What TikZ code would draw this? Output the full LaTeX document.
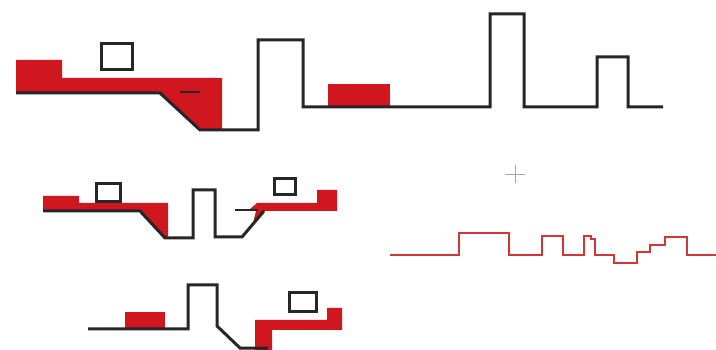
\documentclass[tikz,border=0pt]{standalone}
\definecolor{fillred}{RGB}{208,22,30}
\definecolor{wavered}{RGB}{210,55,55}
\begin{document}
\begin{tikzpicture}[x=1pt,y=-1pt,
  blk/.style={draw=black!85,line width=3pt,line join=miter},
  redfill/.style={fill=fillred,draw=none},
  mask/.style={draw=black!85,line width=3pt},
  tick/.style={draw=black!85,line width=1.4pt},
  wave/.style={draw=wavered,line width=2.4pt,line join=miter}]
\useasboundingbox (0,0) rectangle (716,350);
% ---- top diagram
\fill[redfill] (16,60) -- (62,60) -- (62,78) -- (222,78) -- (222,130) -- (200,130) -- (160,93) -- (16,93) -- cycle;
\fill[redfill] (328,84) rectangle (390,107);
\draw[blk] (16,93) -- (160,93) -- (200,130) -- (258,130) -- (258,40) -- (303,40) -- (303,107) -- (490,107) -- (490,14) -- (524,14) -- (524,107) -- (597,107) -- (597,57) -- (628,57) -- (628,107) -- (663,107);
\draw[mask] (101,44) rectangle (132,70);
\draw[tick] (180,92) -- (200,92);
% ---- diagram A
\fill[redfill] (43,196) -- (79,196) -- (79,203) -- (168,203) -- (168,239) -- (165,239) -- (140,211) -- (43,211) -- cycle;
\fill[redfill] (250,209) -- (257,203) -- (317,203) -- (317,190) -- (337,190) -- (337,211) -- (264,211) -- (253,223) -- (256,211) -- cycle;
\draw[blk] (43,211) -- (140,211) -- (165,238) -- (193,238) -- (193,190) -- (215,190) -- (215,237) -- (242,237) -- (264,211);
\draw[mask] (96,184) rectangle (120,202);
\draw[mask] (274,179) rectangle (295,195);
\draw[tick] (235,210) -- (258,210);
% ---- diagram B
\fill[redfill] (125,312) rectangle (165,329);
\fill[redfill] (255,320) -- (327,320) -- (327,308) -- (342,308) -- (342,330) -- (272,330) -- (272,350) -- (255,350) -- cycle;
\draw[blk] (88,329) -- (188,329) -- (188,285) -- (217,285) -- (217,326) -- (240,348) -- (268,348);
\draw[mask] (289,293) rectangle (316,312);
% ---- cross
\draw[gray!70,line width=0.8pt] (505,174) -- (525,174) (515,165) -- (515,183);
% ---- red waveform
\draw[wave] (390,255) -- (459,255) -- (459,233) -- (509,233) -- (509,255) -- (542,255) -- (542,236) -- (563,236) -- (563,255) -- (584,255) -- (584,236) -- (591,236) -- (591,239) -- (595,239) -- (595,255) -- (614,255) -- (614,263) -- (637,263) -- (637,252) -- (650,252) -- (650,245) -- (665,245) -- (665,237) -- (687,237) -- (687,255) -- (716,255);
\end{tikzpicture}
\end{document}
